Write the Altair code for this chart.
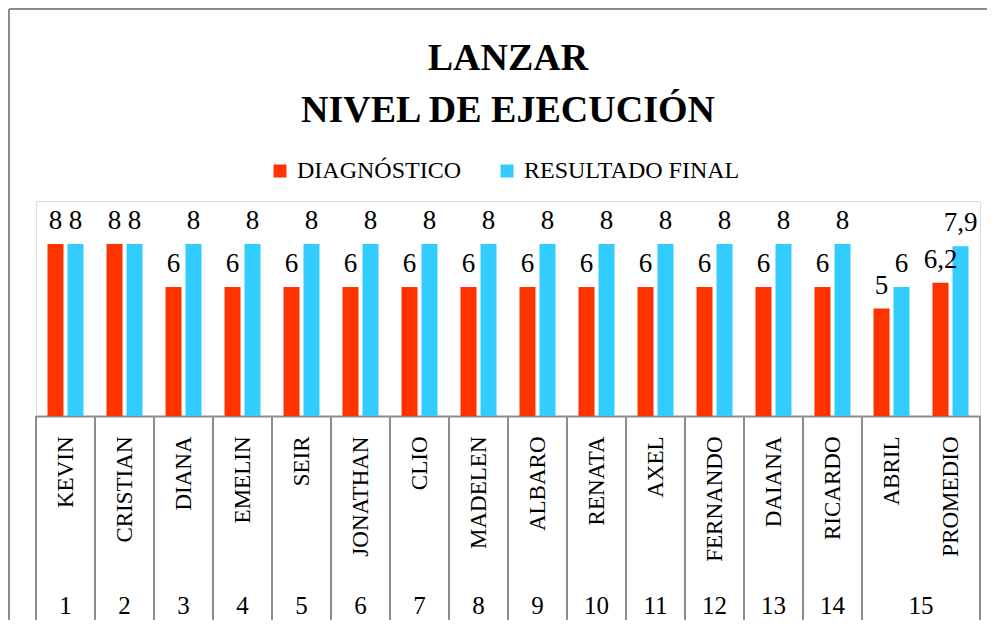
import altair as alt
import pandas as pd

names = ["KEVIN", "CRISTIAN", "DIANA", "EMELIN", "SEIR", "JONATHAN", "CLIO",
         "MADELEN", "ALBARO", "RENATA", "AXEL", "FERNANDO", "DAIANA",
         "RICARDO", "ABRIL", "PROMEDIO"]
groups = ["1", "2", "3", "4", "5", "6", "7", "8", "9", "10", "11", "12",
          "13", "14", "15", "15"]
diagnostico = [8, 8, 6, 6, 6, 6, 6, 6, 6, 6, 6, 6, 6, 6, 5, 6.2]
resultado = [8, 8, 8, 8, 8, 8, 8, 8, 8, 8, 8, 8, 8, 8, 6, 7.9]
series = ["DIAGNÓSTICO", "RESULTADO FINAL"]
colors = ["#FF3300", "#33CCFF"]
title_lines = ["LANZAR", "NIVEL DE EJECUCIÓN"]

FONT = "Liberation Serif"
W, H = 944, 215
GREY = "#8c8c8c"


def fmt(v):
    s = ("%g" % v)
    return s.replace(".", ",")


rows = []
for n, d, r in zip(names, diagnostico, resultado):
    rows.append({"name": n, "serie": series[0], "value": d, "label": fmt(d)})
    rows.append({"name": n, "serie": series[1], "value": r, "label": fmt(r)})
df = pd.DataFrame(rows)

xscale = alt.Scale(domain=names, paddingInner=0, paddingOuter=0)
xoff = alt.Scale(domain=series, paddingInner=0.2, paddingOuter=0.575)
yscale = alt.Scale(domain=[0, 10])

base = alt.Chart(df)

bars = base.mark_bar().encode(
    x=alt.X("name:N", scale=xscale, sort=names,
            axis=alt.Axis(title=None, labelAngle=-90, labelFont=FONT,
                          labelFontSize=23, labelColor="black",
                          labelPadding=20, ticks=False,
                          domainColor=GREY, domainWidth=2)),
    xOffset=alt.XOffset("serie:N", scale=xoff, sort=series),
    y=alt.Y("value:Q", scale=yscale, axis=None),
    color=alt.Color("serie:N", sort=series,
                    scale=alt.Scale(domain=series, range=colors),
                    legend=alt.Legend(orient="none", legendX=232, legendY=-42,
                                      direction="horizontal", title=None,
                                      symbolType="square", symbolSize=169,
                                      symbolStrokeWidth=0, labelFont=FONT,
                                      labelFontSize=24, labelColor="black",
                                      columnPadding=34, labelOffset=5,
                                      labelLimit=0, padding=0)),
)

labels = base.mark_text(font=FONT, fontSize=27, baseline="alphabetic",
                        dy=-15, color="black").encode(
    x=alt.X("name:N", scale=xscale, sort=names),
    xOffset=alt.XOffset("serie:N", scale=xoff, sort=series),
    y=alt.Y("value:Q", scale=yscale),
    text="label:N",
)

# separators between groups of the category axis
sep_names = [n for i, n in enumerate(names) if i == 0 or groups[i] != groups[i - 1]]
sep_df = pd.DataFrame({"name": sep_names})
seps = alt.Chart(sep_df).mark_rule(color=GREY, strokeWidth=2).encode(
    x=alt.X("name:N", scale=xscale, sort=names, bandPosition=0),
    y=alt.value(H), y2=alt.value(H + 204),
)
end_sep = alt.Chart(pd.DataFrame({"a": [0]})).mark_rule(color=GREY, strokeWidth=2).encode(
    x=alt.value(W), y=alt.value(H), y2=alt.value(H + 204),
)

# group numbers
single = [(n, g) for i, (n, g) in enumerate(zip(names, groups)) if groups.count(g) == 1]
multi_first = {}
for i, (n, g) in enumerate(zip(names, groups)):
    if groups.count(g) > 1 and g not in multi_first:
        multi_first[g] = names[i + 1]
num_df = pd.DataFrame({"name": [s[0] for s in single], "num": [s[1] for s in single]})
multi_df = pd.DataFrame({"name": list(multi_first.values()), "num": list(multi_first.keys())})

nums = alt.Chart(num_df).mark_text(font=FONT, fontSize=25, baseline="middle",
                                   color="black").encode(
    x=alt.X("name:N", scale=xscale, sort=names),
    y=alt.value(H + 190),
    text="num:N",
)
nums_multi = alt.Chart(multi_df).mark_text(font=FONT, fontSize=25, baseline="middle",
                                           color="black").encode(
    x=alt.X("name:N", scale=xscale, sort=names, bandPosition=0),
    y=alt.value(H + 190),
    text="num:N",
)

# title lines as text marks
t1 = alt.Chart(pd.DataFrame({"t": [title_lines[0]]})).mark_text(
    font=FONT, fontSize=38, fontWeight="bold", baseline="alphabetic",
    align="center", color="black").encode(
    x=alt.value(W / 2), y=alt.value(-131), text="t:N")
t2 = alt.Chart(pd.DataFrame({"t": [title_lines[1]]})).mark_text(
    font=FONT, fontSize=38, fontWeight="bold", baseline="alphabetic",
    align="center", color="black").encode(
    x=alt.value(W / 2), y=alt.value(-79), text="t:N")

# outer frame of the chart
frame_df = pd.DataFrame({"a": [0]})
left_border = alt.Chart(frame_df).mark_rule(color=GREY, strokeWidth=2).encode(
    x=alt.value(-27), y=alt.value(-192), y2=alt.value(H + 204),
)
top_border = alt.Chart(frame_df).mark_rule(color=GREY, strokeWidth=2).encode(
    x=alt.value(-27), x2=alt.value(W + 7), y=alt.value(-192),
)

chart = alt.layer(
    bars, labels, seps, end_sep, nums, nums_multi, t1, t2, left_border, top_border
).properties(
    width=W, height=H,
    padding={"left": 28, "top": 193, "right": 7, "bottom": 204},
    autosize=alt.AutoSizeParams(type="none"),
).configure_view(stroke=None).configure(font=FONT)

chart.save("out.html", embed_options={"renderer": "svg", "actions": False})
